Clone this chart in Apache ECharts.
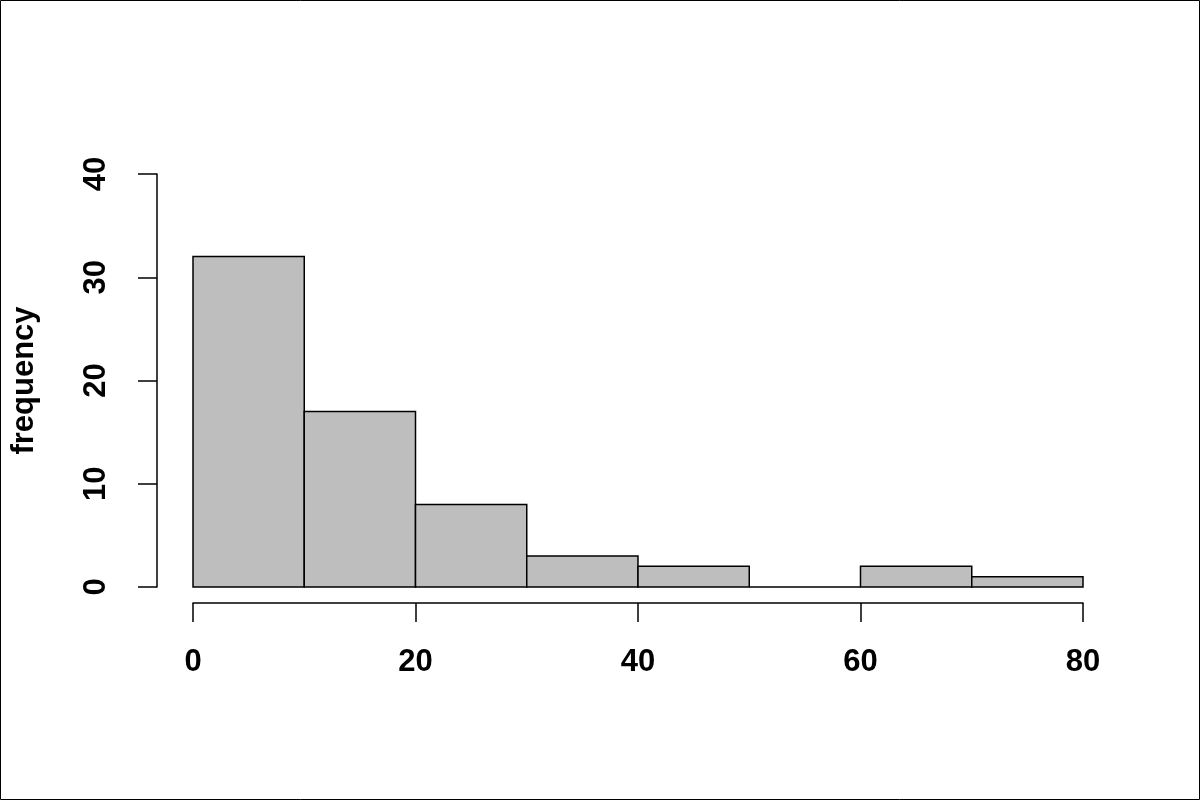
<!DOCTYPE html>
<html>
<head>
<meta charset="utf-8">
<script src="https://cdn.jsdelivr.net/npm/echarts@6/dist/echarts.min.js"></script>
<style>
  html, body { margin: 0; padding: 0; background: #fff; }
  #main { width: 1200px; height: 800px; }
</style>
</head>
<body>
<div id="main"></div>
<script>
// histogram bins (left edges), bin width and counts
var binStarts = [0, 10, 20, 30, 40, 50, 60, 70];
var binWidth = 10;
var counts = [32, 17, 8, 3, 2, 0, 2, 1];

var chart = echarts.init(document.getElementById('main'));

var bars = binStarts.map(function (s, i) {
  return [s, s + binWidth, counts[i]];
});

var font = 'Liberation Sans, Arial, Helvetica, sans-serif';

var option = {
  backgroundColor: '#fff',
  animation: false,
  graphic: [{
    type: 'rect',
    shape: { x: 0.5, y: 0.5, width: 1199, height: 799 },
    style: { fill: 'none', stroke: '#000', lineWidth: 1 }
  }],
  grid: { left: 193, right: 117, top: 174, bottom: 213 },
  xAxis: {
    type: 'value',
    min: 0,
    max: 80,
    interval: 20,
    offset: 16,
    axisLine: { show: true, onZero: false, lineStyle: { color: '#000', width: 1.5 } },
    axisTick: { show: true, length: 19, lineStyle: { color: '#000', width: 1.5 } },
    axisLabel: { color: '#000', fontSize: 31, fontWeight: 'bold', fontFamily: font, margin: 44 },
    splitLine: { show: false }
  },
  yAxis: {
    type: 'value',
    min: 0,
    max: 40,
    interval: 10,
    offset: 36,
    name: 'frequency',
    nameLocation: 'middle',
    nameRotate: 90,
    nameGap: 117,
    nameTextStyle: { color: '#000', fontSize: 31, fontWeight: 'bold', fontFamily: font },
    axisLine: { show: true, onZero: false, lineStyle: { color: '#000', width: 1.5 } },
    axisTick: { show: true, length: 19, lineStyle: { color: '#000', width: 1.5 } },
    axisLabel: { color: '#000', fontSize: 31, fontWeight: 'bold', fontFamily: font, rotate: 90, margin: 45 },
    splitLine: { show: false }
  },
  series: [{
    type: 'custom',
    data: bars,
    encode: { x: [0, 1], y: 2 },
    renderItem: function (params, api) {
      var p0 = api.coord([api.value(0), 0]);
      var p1 = api.coord([api.value(1), api.value(2)]);
      return {
        type: 'rect',
        shape: { x: p0[0], y: p1[1], width: p1[0] - p0[0], height: p0[1] - p1[1] },
        style: { fill: '#bebebe', stroke: '#000', lineWidth: 1.5 }
      };
    }
  }]
};

chart.setOption(option);
</script>
</body>
</html>
